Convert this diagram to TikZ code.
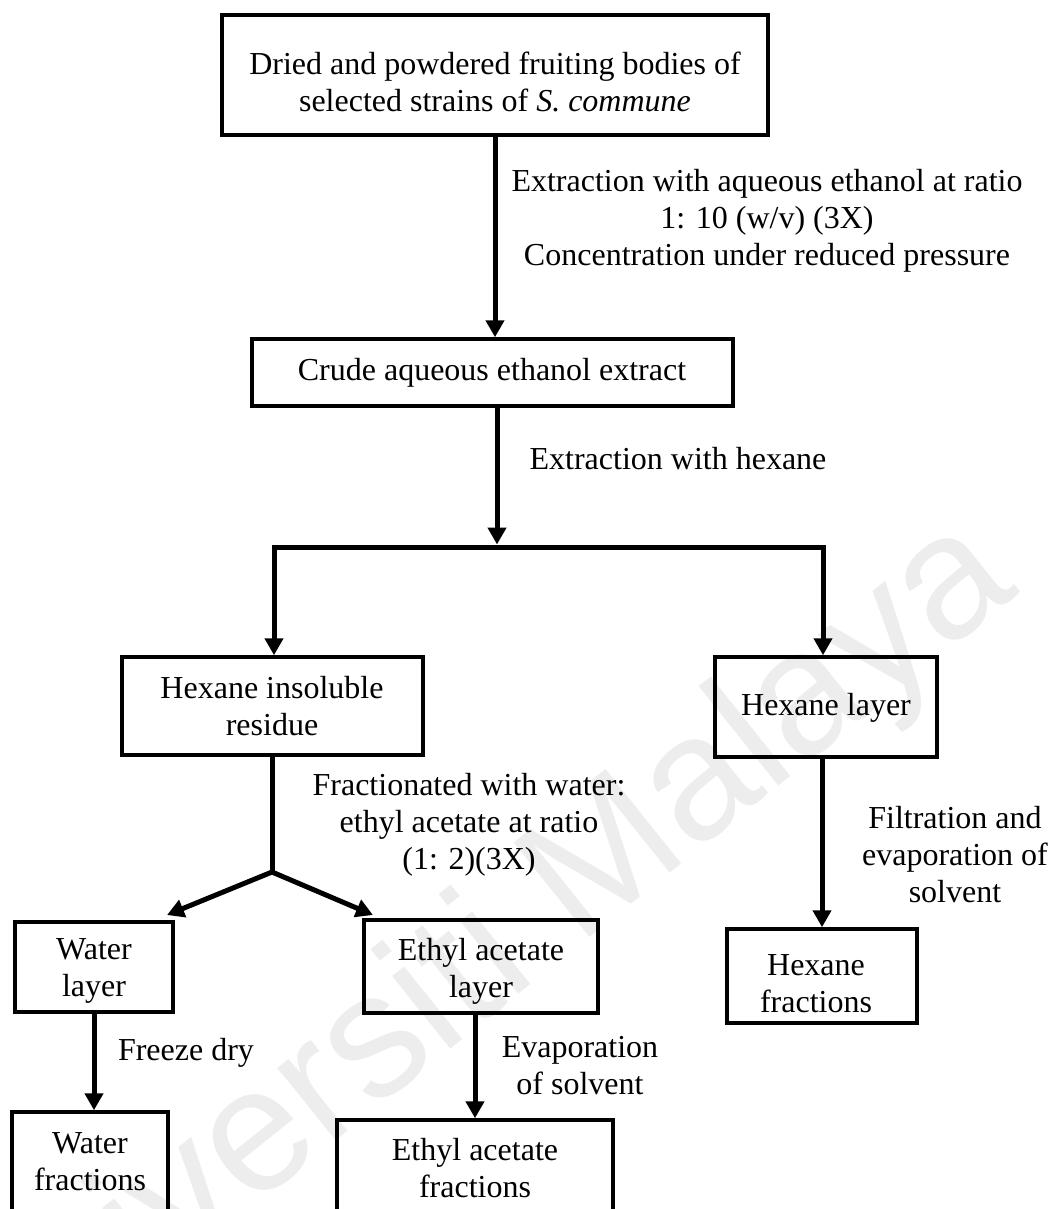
\documentclass[tikz,border=0pt]{standalone}
\usepackage{fontspec}
\setmainfont{Liberation Serif}
\newfontfamily\wmfont{Liberation Sans}
\usetikzlibrary{arrows.meta}
\begin{document}
\begin{tikzpicture}[x=0.5pt, y=-0.5pt,
  box/.style={draw, line width=1.75pt, inner sep=0pt},
  txt/.style={align=center, inner sep=0pt, font=\fontsize{16pt}{18.5pt}\selectfont},
  conn/.style={line width=2.5pt, line join=miter},
  arr/.style={conn, -{Triangle[length=8.5pt, width=9pt]}},
  wm/.style={text=black!7, inner sep=0pt, font=\wmfont\fontsize{88pt}{90pt}\selectfont}]
\useasboundingbox (0,0) rectangle (1057,1209);
\clip (0,0) rectangle (1057,1209);

% watermark
\node[wm, rotate=38.7] (wm) at (470,975) {Universiti Malaya};

% boxes
\node[box, minimum width=273pt, minimum height=60pt]   (btop)   at (495,75) {};
\node[box, minimum width=240.5pt, minimum height=33.5pt] (bcrude) at (492.5,372.5) {};
\node[box, minimum width=150.5pt, minimum height=49pt] (bhi)    at (272.5,706) {};
\node[box, minimum width=111pt, minimum height=50pt]   (bhl)    at (826,707) {};
\node[box, minimum width=79pt, minimum height=45pt]    (bwl)    at (94,967) {};
\node[box, minimum width=117pt, minimum height=46.5pt] (bel)    at (481,966.5) {};
\node[box, minimum width=78pt, minimum height=64pt]    (bwf)    at (90,1176) {};
\node[box, minimum width=138pt, minimum height=60pt]   (bef)    at (475,1180) {};
\node[box, minimum width=95pt, minimum height=47pt]    (bhf)    at (822,976) {};

% box texts
\node[txt] (ttop)   at (495,82) {Dried and powdered fruiting bodies of\\selected strains of \textit{S. commune}};
\node[txt] (tcrude) at (492,373) {Crude aqueous ethanol extract};
\node[txt] (thi)    at (272,706) {Hexane insoluble\\residue};
\node[txt] (thl)    at (826,708) {Hexane layer};
\node[txt] (twl)    at (94,971) {Water\\layer};
\node[txt] (tel)    at (481,971) {Ethyl acetate\\layer};
\node[txt] (twf)    at (90,1162) {Water\\fractions};
\node[txt] (tef)    at (475,1168) {Ethyl acetate\\fractions};
\node[txt] (thf)    at (816,984) {Hexane\\fractions};

% connector labels
\node[txt] (l1) at (767,221) {Extraction with aqueous ethanol at ratio\\1: 10 (w/v) (3X)\\Concentration under reduced pressure};
\node[txt] (l2) at (678,459) {Extraction with hexane};
\node[txt] (l3) at (469,825) {Fractionated with water:\\ethyl acetate at ratio\\(1: 2)(3X)};
\node[txt] (l4) at (186,1053) {Freeze dry};
\node[txt] (l5) at (580,1066) {Evaporation\\of solvent};
\node[txt] (l6) at (955,855) {Filtration and\\evaporation of\\solvent};

% junction coordinates
\coordinate (jm) at (497,547);
\coordinate (jl) at (274,547);
\coordinate (jr) at (823,547);
\coordinate (jb) at (272,872);
\coordinate (tw) at (167,915);
\coordinate (te) at (373,915);

% connectors
\draw[arr] (btop.south) -- (btop.south |- bcrude.north);
\draw[arr, shorten >=1.25pt] (jm |- bcrude.south) -- (jm);
\draw[arr] (jm) -- (jl) -- (jl |- bhi.north);
\draw[arr] (jm) -- (jr) -- (jr |- bhl.north);
\draw[conn] (jb |- bhi.south) -- (jb);
\draw[arr] (jb) -- (tw);
\draw[arr] (jb) -- (te);
\draw[arr] (bwl.south) -- (bwl.south |- bwf.north);
\draw[arr] (bel.south -| bef.north) -- (bef.north);
\draw[arr] (bhf.north |- bhl.south) -- (bhf.north);
\end{tikzpicture}
\end{document}
